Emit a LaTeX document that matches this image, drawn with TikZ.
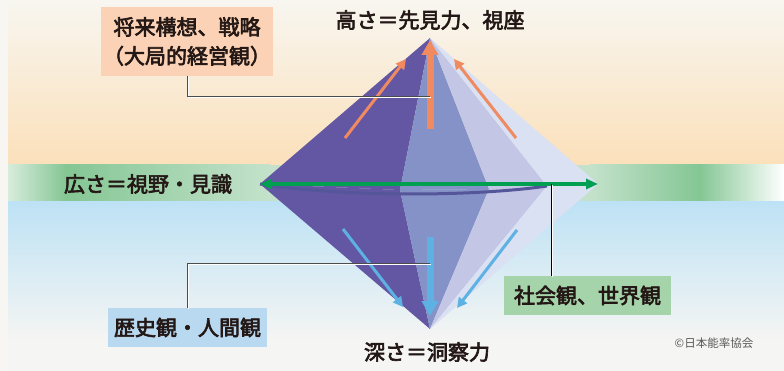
\documentclass[tikz,border=0pt]{standalone}
\usepackage{fontspec}
\setmainfont{Noto Sans CJK JP}
\newfontfamily\medjp{Noto Sans CJK JP}[FakeBold=3]
\usepackage{xcolor}
\usetikzlibrary{arrows.meta,positioning,calc}

\definecolor{bgwhite}{HTML}{F7F6F2}
\definecolor{skytop}{HTML}{F8F6F0}
\definecolor{skybot}{HTML}{FBE0BA}
\definecolor{bandlt}{HTML}{C4E2CB}
\definecolor{banddk}{HTML}{84C694}
\definecolor{bandedge}{HTML}{D8ECDC}
\definecolor{seatop}{HTML}{BDE2F5}
\definecolor{seabot}{HTML}{F5F5F3}
\definecolor{facea}{HTML}{6357A3}
\definecolor{faceb}{HTML}{8592C7}
\definecolor{facec}{HTML}{C3C6E4}
\definecolor{faced}{HTML}{D9E1F3}
\definecolor{rimcol}{HTML}{55559A}
\definecolor{upcol}{HTML}{F08A60}
\definecolor{downcol}{HTML}{5EB2E3}
\definecolor{widecol}{HTML}{00A050}
\definecolor{boxpeach}{HTML}{FBD2B5}
\definecolor{boxblue}{HTML}{B9D9F1}
\definecolor{boxgreen}{HTML}{A5D4AA}
\definecolor{txt}{HTML}{231815}

\begin{document}
\begin{tikzpicture}[x=1pt, y=-1pt,
  plain/.style={text=txt, font=\medjp\fontsize{21}{29}\selectfont, inner sep=0, align=center},
  labelbox/.style={plain, minimum height=39, inner sep=0},
  credit/.style={text=black!65, font=\fontsize{11.5}{13}\selectfont, inner sep=0},
  leader/.style={draw=black!70, line width=0.9,
    preaction={draw=white, line width=1.2, transform canvas={shift={(1.2,1.2)}}}},
  upthin/.style={upcol, line width=3, -{Triangle[length=10,width=10]}},
  downthin/.style={downcol, line width=3, -{Triangle[length=10,width=10]}}]
\useasboundingbox (0,0) rectangle (784,371);
% 背景
\fill[bgwhite] (0,0) rectangle (784,371);
\shade[top color=skytop, bottom color=skybot] (8,0) rectangle (784,165);
\shade[top color=seatop, bottom color=seabot] (8,201) rectangle (784,340);
\fill[seabot] (8,340) rectangle (784,371);
\shade[left color=bandedge, right color=banddk] (8,165) rectangle (66,201);
\shade[left color=banddk, right color=bandlt] (65.5,165) rectangle (270,201);
\fill[bandlt] (269.5,165) rectangle (590,201);
\shade[left color=bandlt, right color=banddk] (589.5,165) rectangle (700,201);
\shade[left color=banddk, right color=white] (699.5,165) rectangle (784,201);
% 頂点
\coordinate (T) at (430,38); \coordinate (B) at (430,329);
\coordinate (L) at (260,184); \coordinate (R) at (598,184);
\coordinate (E1) at (400,190); \coordinate (E2) at (489,189);
\coordinate (E3) at (547,186);
% 上の面
\fill[facea] (T)--(L)--(E1)--cycle;
\fill[faceb] (T)--(E1)--(E2)--cycle;
\fill[facec] (T)--(E2)--(E3)--cycle;
\fill[faced] (T)--(E3)--(R)--cycle;
% 下の面
\fill[facea] (B)--(L)--(E1)--cycle;
\fill[faceb] (B)--(E1)--(E2)--cycle;
\fill[facec] (B)--(E2)--(E3)--cycle;
\fill[faced] (B)--(E3)--(R)--cycle;
% 赤道
\draw[rimcol, line width=3] (L) .. controls (350,198) and (480,196) .. (E3);
% 矢印
\coordinate (up1) at (345,138); \coordinate (up1e) at (406,59);
\coordinate (up2) at (430,129);
\coordinate (up3) at (516,138); \coordinate (up3e) at (454,59);
\draw[upthin] (up1) -- (up1e);
\draw[upthin] (up3) -- (up3e);
\draw[upcol, line width=7, -{Triangle[length=15,width=16]}] (up2) -- ($(T)+(0,2)$);
\coordinate (dn1) at (343,229); \coordinate (dn1e) at (403,307);
\coordinate (dn2) at (430,237); \coordinate (dn2e) at (430,316);
\coordinate (dn3) at (517,230); \coordinate (dn3e) at (457,308);
\draw[downthin] (dn1) -- (dn1e);
\draw[downthin] (dn3) -- (dn3e);
\draw[downcol, line width=7, -{Triangle[length=15,width=16]}] (dn2) -- (dn2e);
\draw[widecol, line width=3.3, {Triangle[length=12,width=10]}-{Triangle[length=12,width=10]}] (L) -- (R);
% ラベル
\node[plain] (height) at (430,20) {高さ＝先見力、視座};
\node[plain] (breadth) at (148,184) {広さ＝視野・見識};
\node[plain] (depth) at (427,352) {深さ＝洞察力};
\node[plain, fill=boxpeach, minimum width=172, minimum height=69] (vision) at (187,41.5) {将来構想、戦略\\（大局的経営観）};
\node[labelbox, fill=boxblue, minimum width=159] (history) at (187.5,327.5) {歴史観・人間観};
\node[labelbox, fill=boxgreen, minimum width=167] (world) at (587.5,295.5) {社会観、世界観};
\node[credit] (copy) at (714,343) {©日本能率協会};
% 引き出し線
\coordinate (upmid) at (430,96);
\coordinate (dnmid) at (430,263);
\coordinate (widept) at (551,184);
\draw[leader] (vision.south) |- (upmid);
\draw[leader] (history.north) |- (dnmid);
\draw[leader, draw=black] (world.north -| widept) -- (widept);
\end{tikzpicture}
\end{document}
